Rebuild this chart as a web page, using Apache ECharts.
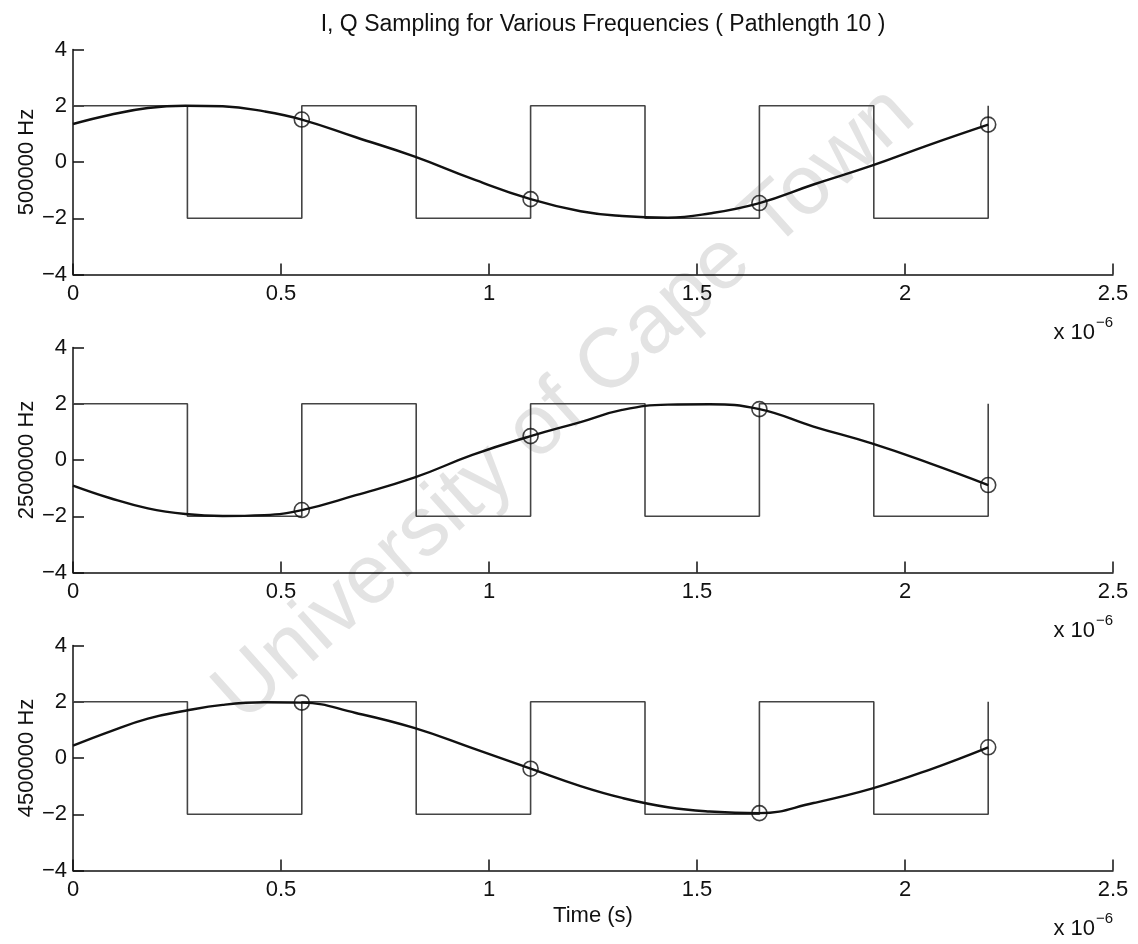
<!DOCTYPE html>
<html>
<head>
<meta charset="utf-8">
<script src="https://cdn.jsdelivr.net/npm/echarts@6/dist/echarts.min.js"></script>
<style>
html,body{margin:0;padding:0;background:#ffffff;}
#chart{width:1138px;height:944px;}
</style>
</head>
<body>
<div id="chart"></div>
<script>
// ---------- data ----------
const titleText = 'I, Q Sampling for Various Frequencies ( Pathlength 10 )';
const panelLabels = ['500000 Hz', '2500000 Hz', '4500000 Hz'];
const xAxisTitle = 'Time (s)';
const xTickValues = [0, 0.5, 1, 1.5, 2, 2.5];      // x 10^-6 s
const yTickValues = [-4, -2, 0, 2, 4];
const xMultiplier = 'x 10';
const xExponent = '\u22126';
const watermarkText = 'University of Cape Town';

// square reference wave (value held until next time)
const squareTimes  = [0, 0.275, 0.55, 0.825, 1.1, 1.375, 1.65, 1.925, 2.2];
const squareLevels = [2, -2, 2, -2, 2, -2, 2, -2, 2];

// continuous signals
const curveTimes = [0, 0.09, 0.18, 0.27, 0.36, 0.46, 0.55, 0.68, 0.82, 0.96, 1.1, 1.22, 1.32, 1.43, 1.53, 1.65, 1.78, 1.92, 2.06, 2.2];
const curve500k  = [1.35, 1.68, 1.92, 2.0, 1.98, 1.80, 1.51, 0.88, 0.2, -0.6, -1.32, -1.75, -1.92, -1.98, -1.83, -1.46, -0.8, -0.13, 0.62, 1.33];
const curve2500k = [-0.91, -1.36, -1.72, -1.92, -1.99, -1.96, -1.78, -1.25, -0.63, 0.18, 0.85, 1.35, 1.78, 1.97, 1.98, 1.81, 1.19, 0.59, -0.12, -0.89];
const curve4500k = [0.44, 0.95, 1.40, 1.68, 1.89, 1.98, 1.97, 1.60, 1.07, 0.35, -0.38, -1.0, -1.42, -1.75, -1.9, -1.96, -1.6, -1.09, -0.41, 0.38];

// sampled points (circles)
const sampleTimes   = [0.55, 1.1, 1.65, 2.2];
const samples500k   = [1.51, -1.32, -1.46, 1.33];
const samples2500k  = [-1.78, 0.85, 1.81, -0.89];
const samples4500k  = [1.97, -0.38, -1.96, 0.38];

const curves  = [curve500k, curve2500k, curve4500k];
const samples = [samples500k, samples2500k, samples4500k];

// ---------- layout / style ----------
const FONT = "'Liberation Sans', Arial, Helvetica, sans-serif";
const INK = '#111111';
const gridLeft = 73, gridWidth = 1040, gridHeight = 225;
const gridTops = [49.5, 347.5, 645.5];

const zip = (xs, ys) => xs.map((x, i) => [x, ys[i]]);
const minus = v => String(v).replace('-', '\u2212');

const grids = [], xAxes = [], yAxes = [], series = [], graphics = [];

gridTops.forEach((top, k) => {
  grids.push({ left: gridLeft, top: top, width: gridWidth, height: gridHeight, containLabel: false });
  xAxes.push({
    gridIndex: k, type: 'value',
    min: xTickValues[0], max: xTickValues[xTickValues.length - 1],
    interval: xTickValues[1] - xTickValues[0],
    splitLine: { show: false },
    axisLine: { show: true, onZero: false, lineStyle: { color: INK, width: 1.5 } },
    axisTick: { show: true, inside: true, length: 11, lineStyle: { color: INK, width: 1.5 } },
    axisLabel: { color: INK, fontSize: 22, fontFamily: FONT, margin: 8, showMinLabel: true, showMaxLabel: true },
    name: k === 2 ? xAxisTitle : '',
    nameLocation: 'middle', nameGap: 34,
    nameTextStyle: { color: INK, fontSize: 22, fontFamily: FONT }
  });
  yAxes.push({
    gridIndex: k, type: 'value',
    min: yTickValues[0], max: yTickValues[yTickValues.length - 1],
    interval: yTickValues[1] - yTickValues[0],
    splitLine: { show: false },
    axisLine: { show: true, onZero: false, lineStyle: { color: INK, width: 1.5 } },
    axisTick: { show: true, inside: true, length: 11, lineStyle: { color: INK, width: 1.5 } },
    axisLabel: { color: INK, fontSize: 22, fontFamily: FONT, margin: 6, formatter: minus },
    name: panelLabels[k], nameLocation: 'middle', nameGap: 35, nameRotate: 90,
    nameMoveOverlap: false,
    nameTextStyle: { color: INK, fontSize: 22, fontFamily: FONT }
  });
  series.push({
    type: 'line', xAxisIndex: k, yAxisIndex: k,
    data: zip(squareTimes, squareLevels), step: 'end',
    showSymbol: false, silent: true,
    lineStyle: { color: '#444444', width: 1.6 }, z: 2
  });
  series.push({
    type: 'line', xAxisIndex: k, yAxisIndex: k,
    data: zip(curveTimes, curves[k]), smooth: 0.45,
    showSymbol: false, silent: true,
    lineStyle: { color: INK, width: 2.4 }, z: 3
  });
  series.push({
    type: 'scatter', xAxisIndex: k, yAxisIndex: k,
    data: zip(sampleTimes, samples[k]),
    symbol: 'circle', symbolSize: 15, silent: true,
    itemStyle: { color: 'rgba(0,0,0,0)', borderColor: INK, borderWidth: 1.6 }, z: 4
  });
  const bottom = top + gridHeight;
  graphics.push({
    type: 'text', x: gridLeft + gridWidth - 18, y: bottom + 58,
    style: { text: xMultiplier, fill: INK, fontSize: 22, fontFamily: FONT, align: 'right', verticalAlign: 'middle' }
  });
  graphics.push({
    type: 'text', x: gridLeft + gridWidth - 17, y: bottom + 48,
    style: { text: xExponent, fill: INK, fontSize: 15, fontFamily: FONT, align: 'left', verticalAlign: 'middle' }
  });
});

graphics.push({
  type: 'text', x: 565, y: 405, rotation: 0.73, z: -10,
  style: { text: watermarkText, fill: '#e3e3e3', fontSize: 84, fontFamily: FONT, align: 'center', verticalAlign: 'middle' }
});

const chart = echarts.init(document.getElementById('chart'), null, { renderer: 'canvas' });
chart.setOption({
  animation: false,
  backgroundColor: '#ffffff',
  title: {
    text: titleText, left: 598, top: 8, textAlign: 'center',
    textStyle: { color: INK, fontSize: 23, fontWeight: 'normal', fontFamily: FONT }
  },
  grid: grids, xAxis: xAxes, yAxis: yAxes, series: series,
  graphic: { elements: graphics }
});
</script>
</body>
</html>
